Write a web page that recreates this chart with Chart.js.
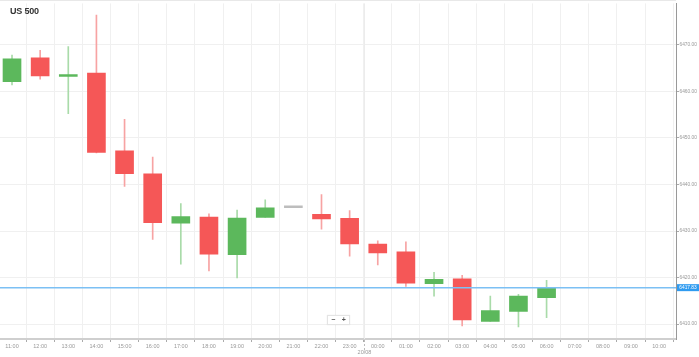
<!DOCTYPE html>
<html>
<head>
<meta charset="utf-8">
<script src="https://cdn.jsdelivr.net/npm/chart.js@4/dist/chart.umd.min.js"></script>
<style>
  html, body { margin: 0; padding: 0; background: #fff; }
  #wrap { position: relative; width: 699px; height: 357px; overflow: hidden; }
  #title { position: absolute; left: 10px; top: 6px; font: bold 9px "Liberation Sans", Arial, sans-serif; color: #333; letter-spacing: -0.2px; }
  #zoom { position: absolute; left: 327px; top: 315px; width: 21px; height: 8px; background: #fff; border: 1px solid #e4e4e4; box-shadow: 0 0 1px rgba(0,0,0,0.1); display: flex; font: bold 7px "Liberation Sans", Arial, sans-serif; color: #555; line-height: 8px; }
  #zoom span { flex: 1; text-align: center; }
</style>
</head>
<body>
<div id="wrap">
  <canvas id="c" width="699" height="357"></canvas>
  <div id="title">US 500</div>
  <div id="zoom"><span>&minus;</span><span>+</span></div>
</div>
<script>
const labels = ['11:00','12:00','13:00','14:00','15:00','16:00','17:00','18:00','19:00','20:00','21:00','22:00','23:00','00:00','01:00','02:00','03:00','04:00','05:00','06:00','07:00','08:00','09:00','10:00'];
const opens  = [6462.1, 6467.2, 6463.2, 6463.9, 6447.2, 6442.3, 6431.7, 6433.0, 6424.9, 6432.9, 6435.0, 6433.6, 6432.7, 6427.2, 6425.5, 6418.7, 6419.7, 6410.6, 6412.7, 6415.7];
const highs  = [6467.8, 6468.8, 6469.6, 6476.4, 6454.0, 6445.9, 6435.9, 6433.7, 6434.5, 6436.7, 6435.0, 6437.8, 6434.4, 6427.9, 6427.7, 6421.1, 6420.5, 6416.0, 6416.4, 6419.4];
const lows   = [6461.4, 6462.6, 6455.2, 6446.8, 6439.6, 6428.2, 6422.9, 6421.4, 6419.9, 6432.9, 6435.0, 6430.4, 6424.6, 6422.7, 6418.1, 6416.0, 6409.6, 6410.6, 6409.4, 6411.4];
const closes = [6467.0, 6463.3, 6463.6, 6446.9, 6442.3, 6431.8, 6433.1, 6425.0, 6432.8, 6435.0, 6435.0, 6432.6, 6427.2, 6425.3, 6418.8, 6419.6, 6410.9, 6412.9, 6416.0, 6417.83];
const yTickValues = [6410, 6420, 6430, 6440, 6450, 6460, 6470];
const currentPrice = 6417.83;
const dateLabel = '20/08';
const dateBoundaryIndex = 12.5;

const UP = '#5cb85c', DOWN = '#f55757', FLAT = '#bdbdbd';
const UPW = '#a9dba9', DOWNW = '#f7a3a3';
const dir = i => closes[i] > opens[i] ? 1 : (closes[i] < opens[i] ? -1 : 0);

const bodyData = opens.map((o, i) => ({ x: i, y: [o, closes[i]] }));
const wickData = opens.map((o, i) => ({ x: i, y: [lows[i], highs[i]] }));

const overlay = {
  id: 'overlay',
  beforeDatasetsDraw(chart) {
    const { ctx, chartArea, scales } = chart;
    const x = Math.round(scales.x.getPixelForValue(dateBoundaryIndex)) + 0.5;
    ctx.save();
    ctx.strokeStyle = '#ececec';
    ctx.lineWidth = 1;
    ctx.beginPath(); ctx.moveTo(x, chartArea.top); ctx.lineTo(x, chartArea.bottom); ctx.stroke();
    ctx.strokeStyle = '#bbb';
    ctx.setLineDash([2, 2]);
    ctx.beginPath(); ctx.moveTo(x, chartArea.bottom + 1); ctx.lineTo(x, chartArea.bottom + 11); ctx.stroke();
    ctx.setLineDash([]);
    ctx.fillStyle = '#999';
    ctx.font = '5.5px "Liberation Sans", Arial, sans-serif';
    ctx.textAlign = 'center'; ctx.textBaseline = 'middle';
    ctx.fillText(dateLabel, x, chartArea.bottom + 13.5);
    ctx.strokeStyle = '#e8e8e8';
    ctx.beginPath(); ctx.moveTo(chartArea.left, 0.5); ctx.lineTo(chartArea.right, 0.5); ctx.stroke();
    ctx.restore();
  },
  afterDatasetsDraw(chart) {
    const { ctx, chartArea, scales } = chart;
    const y = scales.y.getPixelForValue(currentPrice);
    ctx.save();
    ctx.strokeStyle = '#7cc0f4';
    ctx.lineWidth = 1.5;
    ctx.beginPath(); ctx.moveTo(chartArea.left, y); ctx.lineTo(chartArea.right, y); ctx.stroke();
    ctx.fillStyle = '#2f9bf0';
    ctx.fillRect(chartArea.right + 1, y - 3.5, chart.width - chartArea.right - 1, 7);
    ctx.fillStyle = '#fff';
    ctx.font = '4.8px "Liberation Sans", Arial, sans-serif';
    ctx.textAlign = 'center'; ctx.textBaseline = 'middle';
    ctx.fillText(currentPrice.toFixed(2), (chartArea.right + 1 + chart.width) / 2, y + 0.3);
    ctx.restore();
  }
};

new Chart(document.getElementById('c'), {
  type: 'bar',
  data: {
    datasets: [
      {
        label: 'body',
        data: bodyData,
        grouped: false,
        barThickness: 18,
        minBarLength: 2,
        backgroundColor: bodyData.map((d, i) => dir(i) > 0 ? UP : dir(i) < 0 ? DOWN : FLAT),
        borderWidth: 0
      },
      {
        label: 'wick',
        data: wickData,
        grouped: false,
        barThickness: 1,
        backgroundColor: wickData.map((d, i) => dir(i) > 0 ? UPW : dir(i) < 0 ? DOWNW : FLAT),
        borderWidth: 0
      }
    ]
  },
  options: {
    responsive: false,
    animation: false,
    devicePixelRatio: 1,
    layout: { padding: 0 },
    plugins: { legend: { display: false }, tooltip: { enabled: false } },
    scales: {
      x: {
        type: 'linear',
        offset: false,
        min: -0.427,
        max: 23.6,
        afterBuildTicks(scale) { scale.ticks = labels.map((l, i) => ({ value: i })); },
        afterFit(scale) { scale.height = 18; },
        grid: { color: '#f0f0f0', lineWidth: 1, tickLength: 3, tickColor: '#aaa', drawTicks: true },
        border: { color: '#cfcfcf', width: 2 },
        ticks: {
          autoSkip: false, maxRotation: 0, padding: 1,
          color: '#999',
          font: { family: '"Liberation Sans", Arial, sans-serif', size: 5.5 },
          callback: (v, i) => labels[i]
        }
      },
      y: {
        type: 'linear',
        position: 'right',
        min: 6406.8,
        max: 6478.9,
        afterBuildTicks(scale) { scale.ticks = yTickValues.map(v => ({ value: v })); },
        afterFit(scale) { scale.width = 23; },
        grid: { color: '#f0f0f0', lineWidth: 1, tickLength: 3, tickColor: '#aaa' },
        border: { color: '#999', width: 1 },
        ticks: {
          padding: 0.5,
          color: '#999',
          font: { family: '"Liberation Sans", Arial, sans-serif', size: 4.8 },
          callback: v => Number(v).toFixed(2)
        }
      }
    }
  },
  plugins: [overlay]
});
</script>
</body>
</html>
